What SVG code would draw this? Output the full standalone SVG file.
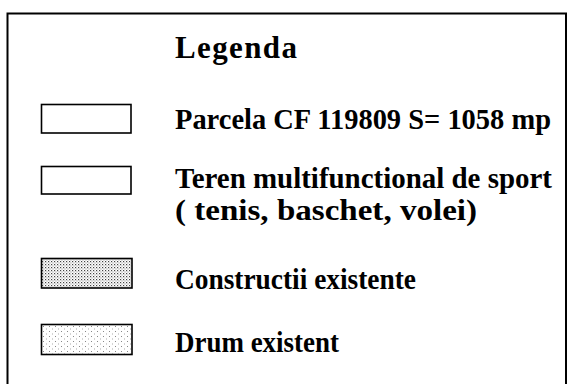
<svg xmlns="http://www.w3.org/2000/svg" width="573" height="384" viewBox="0 0 573 384">
<style>
.t{font-family:"Liberation Serif","Times New Roman",serif;font-weight:bold;font-size:29px;fill:#000}
.h{font-size:31px}
.sw{stroke:#000;stroke-width:1.6}
</style>
<defs>
<pattern id="pc" width="3" height="3" patternUnits="userSpaceOnUse">
<rect width="3" height="3" fill="#fff"/>
<rect x="0" y="0" width="1.2" height="1.2" fill="#444"/>
<rect x="1.5" y="1.5" width="1" height="1" fill="#777"/>
</pattern>
<pattern id="pd" width="6" height="5" patternUnits="userSpaceOnUse">
<rect width="6" height="5" fill="#fff"/>
<rect x="1" y="1" width="1" height="1" fill="#888"/>
<rect x="4" y="3.5" width="1" height="1" fill="#aaa"/>
</pattern>
</defs>
<rect width="573" height="384" fill="#fff"/>
<path d="M7.5,384 V13.5 H566 V384" fill="none" stroke="#000" stroke-width="2"/>
<g id="title">
<text class="t h" x="175" y="58" textLength="122" lengthAdjust="spacing">Legenda</text>
</g>
<g id="parcela">
<rect class="sw" x="41.5" y="104.5" width="89.5" height="28.5" fill="#fff"/>
<text class="t" x="175" y="129" textLength="376" lengthAdjust="spacingAndGlyphs">Parcela CF 119809 S= 1058 mp</text>
</g>
<g id="teren">
<rect class="sw" x="41.5" y="166.5" width="89.5" height="27.5" fill="#fff"/>
<text class="t" x="175" y="188" textLength="377" lengthAdjust="spacingAndGlyphs">Teren multifunctional de sport</text>
<text class="t" x="175" y="220" textLength="302" lengthAdjust="spacingAndGlyphs">( tenis, baschet, volei)</text>
</g>
<g id="constructii">
<rect class="sw" x="41.5" y="258.5" width="90.5" height="29.5" fill="url(#pc)"/>
<text class="t" x="175" y="289" textLength="241" lengthAdjust="spacingAndGlyphs">Constructii existente</text>
</g>
<g id="drum">
<rect class="sw" x="41.5" y="324.5" width="90.5" height="30" fill="url(#pd)"/>
<text class="t" x="175" y="352" textLength="164" lengthAdjust="spacingAndGlyphs">Drum existent</text>
</g>
</svg>
